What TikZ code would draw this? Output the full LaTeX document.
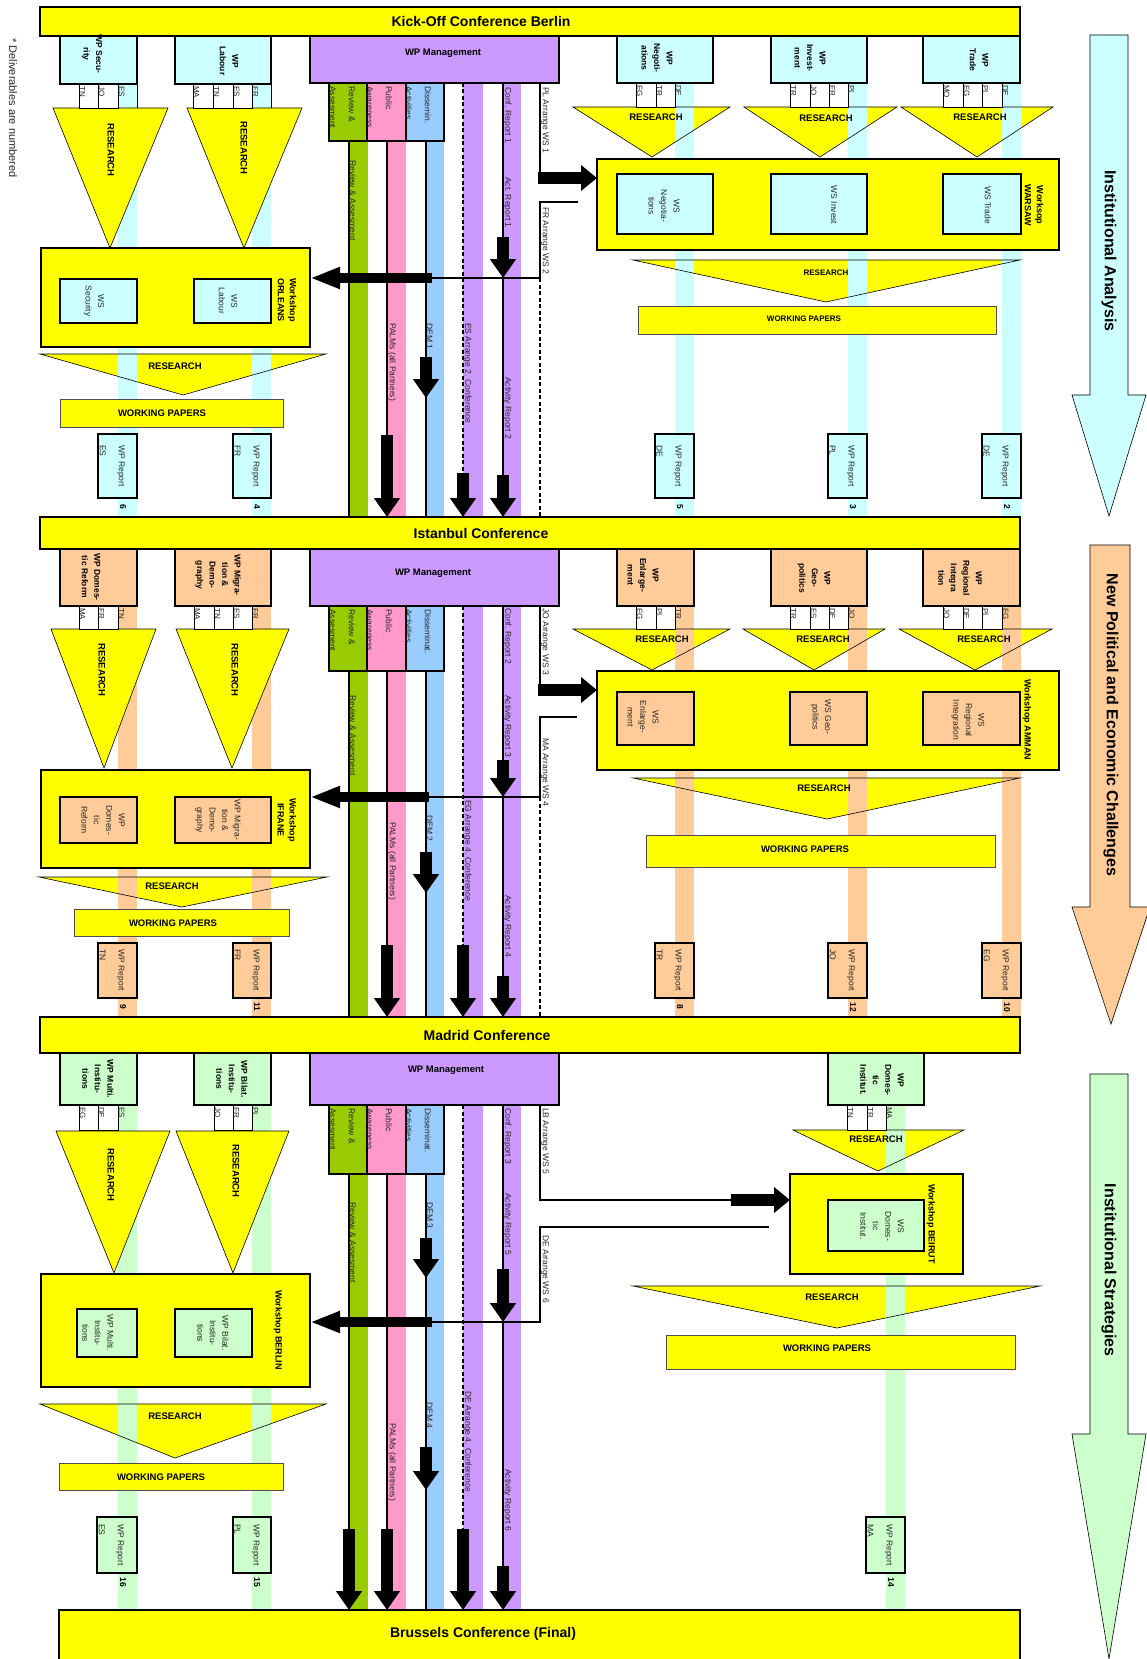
\documentclass[tikz,border=0pt]{standalone}
\usepackage{fontspec}
\setmainfont{Liberation Sans}
\usetikzlibrary{arrows.meta,fit}
\definecolor{yel}{HTML}{FFFF00}
\definecolor{cy}{HTML}{CCFFFF}
\definecolor{pe}{HTML}{FFCC99}
\definecolor{lg}{HTML}{CCFFCC}
\definecolor{pu}{HTML}{CC99FF}
\definecolor{gr}{HTML}{99CC00}
\definecolor{pk}{HTML}{FF99CC}
\definecolor{lb}{HTML}{99CCFF}
\newcommand\bx[6]{\node[#1,fit={(#3,#4)(#5,#6)},inner sep=0pt,outer sep=0pt] (#2) {};}
\begin{document}
\begin{tikzpicture}[x=1pt,y=-1pt,
 bann/.style={draw,line width=1.8pt,fill=yel},
 wpb/.style={draw,line width=1.5pt},
 cellb/.style={draw,line width=0.9pt,fill=white},
 trib/.style={draw,line width=0.6pt},
 trif/.style={fill=yel},
 wkb/.style={draw,line width=1.8pt,fill=yel},
 wpap/.style={draw=black!70,line width=0.8pt,fill=yel},
 subb/.style={draw,line width=1.5pt},
 ln/.style={line width=1.4pt},
 tln/.style={line width=1.1pt},
 dln/.style={line width=1.1pt,dash pattern=on 4pt off 2.5pt},
 varrow/.style={line width=12pt,-{Triangle[width=25pt,length=19pt]}},
 rarrow/.style={line width=12pt,-{Triangle[width=25pt,length=16pt]}},
 larrow/.style={line width=10pt,-{Triangle[width=20pt,length=30pt]}},
 bt/.style={inner sep=0pt,font=\bfseries\fontsize{14}{16}\selectfont},
 wpl/.style={rotate=-90,align=center,inner sep=0pt,font=\bfseries\fontsize{8.5}{12.5}\selectfont},
 wsl/.style={rotate=-90,align=center,inner sep=0pt,text=black!85,font=\fontsize{8.5}{12.5}\selectfont},
 wkl/.style={rotate=-90,align=center,inner sep=0pt,font=\bfseries\fontsize{9}{12}\selectfont},
 cl/.style={rotate=-90,anchor=south west,inner sep=0pt,text=black!85,font=\fontsize{8}{9}\selectfont},
 vl/.style={rotate=-90,anchor=south west,inner sep=0pt,align=left,text=black!85,font=\fontsize{8.5}{19}\selectfont},
 rl/.style={rotate=-90,anchor=south,inner sep=0pt,align=left,text=black!85,font=\fontsize{8.5}{19}\selectfont},
 num/.style={rotate=-90,inner sep=0pt,font=\bfseries\fontsize{8.5}{9}\selectfont},
 rs/.style={inner sep=0pt,font=\bfseries\fontsize{9.5}{11}\selectfont},
 rss/.style={inner sep=0pt,font=\bfseries\fontsize{8}{9}\selectfont},
 rsv/.style={rotate=-90,inner sep=0pt,font=\bfseries\fontsize{9.5}{11}\selectfont},
 bigl/.style={rotate=-90,inner sep=0pt,font=\bfseries\fontsize{16}{18}\selectfont},
]
\useasboundingbox (0,0) rectangle (1147,1659);
\begin{scope}
\clip (0,0) rectangle (1147,1659);

% ---------- side arrows ----------
\draw[fill=cy,line width=0.6pt] (1090,35) -- (1128,35) -- (1128,395) -- (1146,395) -- (1109,516) -- (1072,395) -- (1090,395) -- cycle;
\draw[fill=pe,line width=0.6pt] (1090,545) -- (1130,545) -- (1130,907) -- (1150,907) -- (1111,1024) -- (1072,907) -- (1090,907) -- cycle;
\draw[fill=lg,line width=0.6pt] (1090,1074) -- (1128,1074) -- (1128,1434) -- (1146,1434) -- (1109,1659) -- (1072,1434) -- (1090,1434) -- cycle;
\node[bigl] (a1t) at (1109,251) {Institutional Analysis};
\node[bigl] (a2t) at (1111,725) {New Political and Economic Challenges};
\node[bigl] (a3t) at (1109,1270) {Institutional Strategies};
\node[rotate=-90,anchor=west,inner sep=0pt,text=black!85,font=\fontsize{11}{12}\selectfont] (deliv) at (13,38) {* Deliverables are numbered};

% ---------- triangle fills under stripes ----------
\fill[trif] (573,107) -- (730,107) -- (652,157) -- cycle;
\fill[trif] (744,107) -- (897,107) -- (820,157) -- cycle;
\fill[trif] (901,107) -- (1053,107) -- (977,157) -- cycle;
\fill[trif] (40,354) -- (326,354) -- (183,395) -- cycle;
\fill[trif] (633,260) -- (1020,260) -- (826,302) -- cycle;
\fill[trif] (573,629) -- (730,629) -- (652,670) -- cycle;
\fill[trif] (743,629) -- (885,629) -- (814,670) -- cycle;
\fill[trif] (899,629) -- (1052,629) -- (975,670) -- cycle;
\fill[trif] (39,877) -- (327,877) -- (182,907) -- cycle;
\fill[trif] (633,778) -- (1020,778) -- (827,819) -- cycle;
\fill[trif] (793,1130) -- (964,1130) -- (878,1171) -- cycle;
\fill[trif] (40,1404) -- (326,1404) -- (175,1458) -- cycle;
\fill[trif] (633,1286) -- (1040,1286) -- (837,1328) -- cycle;

% ---------- stripes ----------
\foreach \a in {118,252,675,848,1002} {\fill[cy] (\a,83) rectangle (\a+19,517);}
\foreach \a in {118,252,675,848,1002} {\fill[pe] (\a,606) rectangle (\a+19,1017);}
\foreach \a in {118,252,886} {\fill[lg] (\a,1105) rectangle (\a+19,1610);}
% middle column stripes
\foreach \t/\b/\s in {141/517/83, 671/1017/606, 1174/1610/1105} {
  \fill[gr] (349,\t) rectangle (368,\b);
  \fill[pk] (387,\t) rectangle (406,\b);
  \fill[lb] (426,\t) rectangle (444,\b);
  \fill[pu] (463,\s) rectangle (483,\b);
  \fill[pu] (503,\s) rectangle (521,\b);
  \draw[ln] (349,\t) -- (349,\b);
  \draw[ln] (387,\t) -- (387,\b);
  \draw[ln] (426,\t) -- (426,\b);
  \draw[ln] (503,\s) -- (503,\b);
  \draw[dln] (463,\s) -- (463,\b);
}

% ---------- triangle outlines ----------
\draw[trib] (573,107) -- (730,107) -- (652,157) -- cycle;
\draw[trib] (744,107) -- (897,107) -- (820,157) -- cycle;
\draw[trib] (901,107) -- (1053,107) -- (977,157) -- cycle;
\draw[trib] (40,354) -- (326,354) -- (183,395) -- cycle;
\draw[trib] (633,260) -- (1020,260) -- (826,302) -- cycle;
\draw[trib] (573,629) -- (730,629) -- (652,670) -- cycle;
\draw[trib] (743,629) -- (885,629) -- (814,670) -- cycle;
\draw[trib] (899,629) -- (1052,629) -- (975,670) -- cycle;
\draw[trib] (39,877) -- (327,877) -- (182,907) -- cycle;
\draw[trib] (633,778) -- (1020,778) -- (827,819) -- cycle;
\draw[trib] (793,1130) -- (964,1130) -- (878,1171) -- cycle;
\draw[trib] (40,1404) -- (326,1404) -- (175,1458) -- cycle;
\draw[trib] (633,1286) -- (1040,1286) -- (837,1328) -- cycle;
% left narrow triangles (over stripes)
\draw[trib,fill=yel] (53,108) -- (168,108) -- (110,248) -- cycle;
\draw[trib,fill=yel] (187,108) -- (302,108) -- (244,248) -- cycle;
\draw[trib,fill=yel] (51,629) -- (156,629) -- (104,768) -- cycle;
\draw[trib,fill=yel] (176,629) -- (289,629) -- (232,768) -- cycle;
\draw[trib,fill=yel] (56,1131) -- (170,1131) -- (114,1273) -- cycle;
\draw[trib,fill=yel] (176,1131) -- (289,1131) -- (233,1273) -- cycle;

% RESEARCH labels
\node[rsv] (r1) at (111,150) {RESEARCH};
\node[rsv] (r2) at (244,148) {RESEARCH};
\node[rs] (r3) at (656,117) {RESEARCH};
\node[rs] (r4) at (826,118) {RESEARCH};
\node[rs] (r5) at (980,117) {RESEARCH};
\node[rs] (r6) at (175,366) {RESEARCH};
\node[rss] (r7) at (826,273) {RESEARCH};
\node[rsv] (r8) at (102,670) {RESEARCH};
\node[rsv] (r9) at (235,670) {RESEARCH};
\node[rs] (r10) at (662,639) {RESEARCH};
\node[rs] (r11) at (823,639) {RESEARCH};
\node[rs] (r12) at (984,639) {RESEARCH};
\node[rs] (r13) at (172,886) {RESEARCH};
\node[rs] (r14) at (824,788) {RESEARCH};
\node[rsv] (r15) at (111,1175) {RESEARCH};
\node[rsv] (r16) at (236,1171) {RESEARCH};
\node[rs] (r17) at (876,1139) {RESEARCH};
\node[rs] (r18) at (175,1416) {RESEARCH};
\node[rs] (r19) at (832,1297) {RESEARCH};

% ---------- banners ----------
\bx{bann}{b1}{40}{7}{1020}{36}
\node[bt] (b1t) at (481,21) {Kick-Off Conference Berlin};
\bx{bann}{b2}{40}{517}{1020}{549}
\node[bt] (b2t) at (481,533) {Istanbul Conference};
\bx{bann}{b3}{40}{1017}{1020}{1053}
\node[bt] (b3t) at (487,1035) {Madrid Conference};
\bx{bann}{b4}{59}{1610}{1020}{1675}
\node[bt] (b4t) at (483,1634) {Brussels Conference (Final)};

% ---------- WP boxes ----------
\bx{wpb,fill=cy}{wp11}{60}{36}{137}{84}
\node[wpl] (wp11t) at (92,54) {WP Secu-\\rity};
\bx{wpb,fill=cy}{wp12}{175}{36}{271}{84}
\node[wpl] (wp12t) at (229,61) {WP\\Labour};
\bx{wpb,fill=cy}{wp13}{617}{36}{713}{83}
\node[wpl] (wp13t) at (657,58) {WP\\Negoti-\\ations};
\bx{wpb,fill=cy}{wp14}{771}{36}{867}{83}
\node[wpl] (wp14t) at (810,58) {WP\\Invest-\\ment};
\bx{wpb,fill=cy}{wp15}{923}{36}{1020}{83}
\node[wpl] (wp15t) at (979,60) {WP\\Trade};

\bx{wpb,fill=pe}{wp21}{60}{549}{137}{606}
\node[wpl] (wp21t) at (91,577) {WP Domes-\\tic Reform};
\bx{wpb,fill=pe}{wp22}{175}{549}{271}{606}
\node[wpl] (wp22t) at (218,575) {WP Migra-\\tion \&\\Demo-\\graphy};
\bx{wpb,fill=pe}{wp23}{617}{549}{694}{606}
\node[wpl] (wp23t) at (643,575) {WP\\Enlarge-\\ment};
\bx{wpb,fill=pe}{wp24}{771}{549}{867}{606}
\node[wpl] (wp24t) at (814,578) {WP\\Geo-\\politics};
\bx{wpb,fill=pe}{wp25}{923}{549}{1020}{606}
\node[wpl] (wp25t) at (960,578) {WP\\Regional\\Integra\\tion};

\bx{wpb,fill=lg}{wp31}{60}{1053}{137}{1105}
\node[wpl] (wp31t) at (98,1079) {WP Multi.\\Institu-\\tions};
\bx{wpb,fill=lg}{wp32}{194}{1053}{271}{1105}
\node[wpl] (wp32t) at (232,1079) {WP Bilat.\\Institu-\\tions};
\bx{wpb,fill=lg}{wp33}{828}{1053}{924}{1105}
\node[wpl] (wp33t) at (882,1080) {WP\\Domes-\\tic\\Institut.};

% ---------- partner cells ----------
\foreach \a/\b/\t in {79/98/TN,98/118/JO,193/213/MA,213/233/TN,233/252/ES}
  {\draw[cellb] (\a,84) rectangle (\b,108); \node[cl] (c1-\a) at (\a+0.5,86) {\t};}
\foreach \a/\t in {118/ES,252/FR} {\node[cl] (c1h-\a) at (\a+0.5,86) {\t};}
\draw[line width=0.9pt] (137,84) -- (137,108) (271,84) -- (271,108);
\foreach \a/\b/\t in {636/656/EG,656/675/TR,790/810/TR,810/829/JO,829/848/FR,943/963/MO,963/982/EG,982/1002/PL}
  {\draw[cellb] (\a,83) rectangle (\b,107); \node[cl] (c1r-\a) at (\a+0.5,85) {\t};}
\foreach \a/\t in {675/DE,848/PL,1002/DE} {\node[cl] (c1rh-\a) at (\a+0.5,85) {\t};}

\foreach \a/\b/\t in {79/98/MA,98/118/FR,194/214/MA,214/233/TN,233/252/ES,636/656/EG,656/675/PL,790/810/TR,810/829/ES,829/848/DE,943/963/JO,963/982/DE,982/1002/PL}
  {\draw[cellb] (\a,606) rectangle (\b,629); \node[cl] (c2-\a) at (\a+0.5,608) {\t};}
\foreach \a/\t in {118/TN,252/FR,675/TR,848/JO,1002/EG} {\node[cl] (c2h-\a) at (\a+0.5,608) {\t};}

\foreach \a/\b/\t in {79/98/EG,98/118/DE,214/233/JO,233/252/FR,847/867/TN,867/886/TR}
  {\draw[cellb] (\a,1105) rectangle (\b,1130); \node[cl] (c3-\a) at (\a+0.5,1107) {\t};}
\foreach \a/\t in {118/ES,252/PL,886/MA} {\node[cl] (c3h-\a) at (\a+0.5,1107) {\t};}

% ---------- WP Management blocks ----------
\foreach \s/\y/\t/\b/\ty/\tx/\dl in {1/36/83/141/53/443/Dissemin., 2/549/606/671/573/433/Disseminat., 3/1053/1105/1174/1070/446/Disseminat.} {
  \bx{wpb,fill=pu}{wpm\s}{310}{\y}{559}{\t}
  \node[rs] (wpm\s t) at (\tx,\ty) {WP Management};
  \bx{subb,fill=gr}{ra\s}{329}{\t}{367}{\b}
  \bx{subb,fill=pk}{pa\s}{367}{\t}{406}{\b}
  \bx{subb,fill=lb}{da\s}{406}{\t}{444}{\b}
  \node[vl] (ra\s t) at (329.5,\t+3) {Review \&\\Assesment};
  \node[vl] (pa\s t) at (366.5,\t+3) {Public\\Awareness};
  \node[vl] (da\s t) at (405.5,\t+3) {\dl\\Activities};
}

% ---------- stripe labels ----------
\node[vl] (l11) at (349.5,160) {Review \& Assesment};
\node[vl] (l12) at (388,323) {PALMs (all Partners)};
\node[vl] (l13) at (426.5,323) {DEM 1};
\node[vl] (l14) at (463.5,323) {ES Arrange 2. Conference};
\node[vl] (l15) at (503.5,87) {Conf. Report 1};
\node[vl] (l16) at (503.5,177) {Act. Report 1};
\node[vl] (l17) at (503.5,377) {Activity Report 2};
\node[vl] (l18) at (541,87) {PL Arrange WS 1};
\node[vl] (l19) at (541,207) {FR Arrange WS 2};

\node[vl] (l21) at (349.5,695) {Review \& Assesment};
\node[vl] (l22) at (388,822) {PALMs (all Partners)};
\node[vl] (l23) at (426.5,815) {DEM 2};
\node[vl] (l24) at (463.5,800) {EG Arrange 4. Conference};
\node[vl] (l25) at (503.5,608) {Conf. Report 2};
\node[vl] (l26) at (503.5,695) {Activity Report 3};
\node[vl] (l27) at (503.5,895) {Activity Report 4};
\node[vl] (l28) at (541,608) {JO Arrange WS 3};
\node[vl] (l29) at (541,738) {MA Arrange WS 4};

\node[vl] (l31) at (349.5,1202) {Review \& Assesment};
\node[vl] (l32) at (388,1423) {PALMs (all Partners)};
\node[vl] (l33) at (426.5,1202) {DEM 3};
\node[vl] (l34) at (426.5,1402) {DEM  4};
\node[vl] (l35) at (463.5,1391) {DE Arrange 4. Conference};
\node[vl] (l36) at (503.5,1108) {Conf. Report 3};
\node[vl] (l37) at (503.5,1193) {Activity Report 5};
\node[vl] (l38) at (503.5,1469) {Activity Report 6};
\node[vl] (l39) at (541,1108) {LB Arrange WS 5};
\node[vl] (l310) at (541,1235) {DE Arrange WS 6};

% ---------- workshops ----------
\bx{wkb}{orl}{41}{248}{310}{347}
\bx{wpb,fill=cy}{ws11}{60}{279}{137}{323}
\node[wsl] (ws11t) at (94,301) {WS\\Security};
\bx{wpb,fill=cy}{ws12}{194}{279}{271}{323}
\node[wsl] (ws12t) at (228,301) {WS\\Labour};
\node[wkl] (orlt) at (287,300) {Workshop\\ORLEANS};

\bx{wkb}{war}{597}{159}{1059}{250}
\bx{wpb,fill=cy}{ws13}{617}{174}{713}{234}
\node[wsl] (ws13t) at (664,206) {WS\\Negotia-\\tions};
\bx{wpb,fill=cy}{ws14}{771}{174}{867}{234}
\node[wsl] (ws14t) at (834,205) {WS Invest};
\bx{wpb,fill=cy}{ws15}{943}{174}{1021}{234}
\node[wsl] (ws15t) at (988,205) {WS Trade};
\node[wkl] (wart) at (1034,205) {Worksop\\WARSAW};

\bx{wkb}{ifr}{41}{770}{310}{868}
\bx{wpb,fill=pe}{ws21}{60}{797}{137}{843}
\node[wsl] (ws21t) at (103,820) {WP\\Domes-\\tic\\Reform};
\bx{wpb,fill=pe}{ws22}{175}{797}{271}{843}
\node[wsl] (ws22t) at (218,820) {WP Migra-\\tion \&\\Demo-\\graphy};
\node[wkl] (ifrt) at (287,820) {Workshop\\IFRANE};

\bx{wkb}{amm}{597}{671}{1059}{770}
\bx{wpb,fill=pe}{ws23}{617}{692}{694}{745}
\node[wsl] (ws23t) at (643,717) {WS\\Enlarge-\\ment};
\bx{wpb,fill=pe}{ws24}{790}{692}{867}{745}
\node[wsl] (ws24t) at (821,717) {WS Geo-\\politics};
\bx{wpb,fill=pe}{ws25}{923}{692}{1020}{745}
\node[wsl] (ws25t) at (968,720) {WS\\Regional\\Integration};
\node[wkl] (ammt) at (1027,720) {Workshop AMMAN};

\bx{wkb}{ber}{41}{1274}{310}{1387}
\bx{wpb,fill=lg}{ws31}{77}{1309}{137}{1357}
\node[wsl] (ws31t) at (98,1333) {WP Multi.\\Institu-\\tions};
\bx{wpb,fill=lg}{ws32}{175}{1309}{252}{1357}
\node[wsl] (ws32t) at (213,1333) {WP Bilat.\\Institu-\\tions};
\node[wkl] (bert) at (278,1330) {Workshop BERLIN};

\bx{wkb}{bei}{790}{1174}{963}{1274}
\bx{wpb,fill=lg}{ws33}{828}{1200}{924}{1251}
\node[wsl] (ws33t) at (882,1226) {WS\\Domes-\\tic\\Institut.};
\node[wkl] (beit) at (931,1224) {Workshop BEIRUT};

% ---------- working papers ----------
\bx{wpap}{p11}{60}{399}{283}{427}
\node[rs] (p11t) at (162,413) {WORKING PAPERS};
\bx{wpap}{p12}{638}{306}{996}{334}
\node[rss] (p12t) at (804,319) {WORKING PAPERS};
\bx{wpap}{p21}{74}{909}{289}{936}
\node[rs] (p21t) at (173,923) {WORKING PAPERS};
\bx{wpap}{p22}{646}{835}{995}{867}
\node[rs] (p22t) at (805,849) {WORKING PAPERS};
\bx{wpap}{p31}{59}{1463}{283}{1490}
\node[rs] (p31t) at (161,1477) {WORKING PAPERS};
\bx{wpap}{p32}{666}{1335}{1015}{1369}
\node[rs] (p32t) at (827,1348) {WORKING PAPERS};

% ---------- WP reports ----------
\foreach \n/\a/\b/\t/\c/\top/\bot/\nr in {
  r11/98/137/ES/cy/434/498/6, r12/233/271/FR/cy/434/498/4, r13/655/694/DE/cy/434/498/5, r14/828/867/PL/cy/434/498/3, r15/982/1021/DE/cy/434/498/2,
  r21/98/137/TN/pe/943/998/9, r22/233/271/FR/pe/943/998/11, r23/655/694/TR/pe/943/998/8, r24/828/867/JO/pe/943/998/12, r25/982/1021/EG/pe/943/998/10,
  r31/97/137/ES/lg/1517/1573/16, r32/233/271/PL/lg/1517/1573/15, r33/866/905/MA/lg/1517/1573/14} {
  \bx{wpb,fill=\c}{\n}{\a}{\top}{\b}{\bot}
  \node[rl] (\n t) at (\a+1.5,{(\top+\bot)/2}) {WP Report\\\t};
  \node[num] (\n n) at (\b-14,\bot+9) {\nr};
}

% ---------- connectors ----------
% section 1
\draw[tln] (540,83) -- (540,184);
\draw[rarrow] (538,178) -- (597,178);
\draw[tln] (578,202) -- (540,202) -- (540,278) -- (432,278);
\draw[larrow] (432,278) -- (310,278);
\draw[dln] (540,278) -- (540,517);
\draw[varrow] (503,237) -- (503,278);
\draw[varrow] (426,357) -- (426,398);
\draw[varrow] (387,435) -- (387,517);
\draw[varrow] (463,473) -- (463,517);
\draw[varrow] (503,475) -- (503,517);
% section 2
\draw[tln] (540,606) -- (540,696);
\draw[rarrow] (538,690) -- (597,690);
\draw[tln] (577,717) -- (540,717) -- (540,797) -- (429,797);
\draw[larrow] (429,797) -- (310,797);
\draw[dln] (540,797) -- (540,1017);
\draw[varrow] (503,760) -- (503,797);
\draw[varrow] (426,852) -- (426,893);
\draw[varrow] (387,945) -- (387,1017);
\draw[varrow] (463,945) -- (463,1017);
\draw[varrow] (503,976) -- (503,1017);
% section 3
\draw[tln] (540,1105) -- (540,1200) -- (731,1200);
\draw[rarrow] (731,1200) -- (790,1200);
\draw[tln] (769,1227) -- (540,1227) -- (540,1322) -- (432,1322);
\draw[larrow] (432,1322) -- (310,1322);
\draw[varrow] (503,1269) -- (503,1322);
\draw[varrow] (426,1238) -- (426,1278);
\draw[varrow] (426,1447) -- (426,1490);
\draw[varrow] (349,1529) -- (349,1610);
\draw[varrow] (387,1529) -- (387,1610);
\draw[varrow] (463,1529) -- (463,1610);
\draw[varrow] (503,1566) -- (503,1610);
\end{scope}
\end{tikzpicture}
\end{document}
